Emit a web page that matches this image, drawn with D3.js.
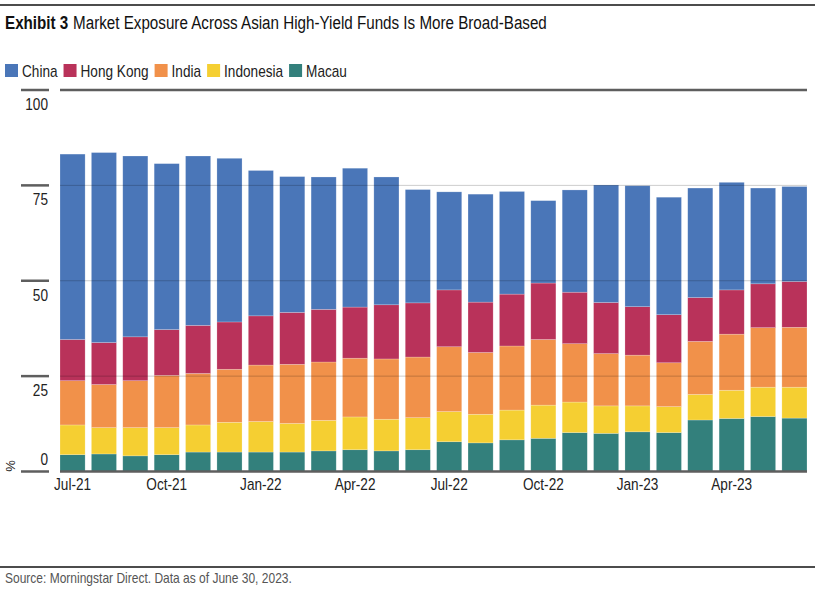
<!DOCTYPE html>
<html>
<head>
<meta charset="utf-8">
<script src="https://cdn.jsdelivr.net/npm/d3@7"></script>
<style>
    body { margin: 0; background: #fff; }
    svg { font-family: "Liberation Sans", Arial, sans-serif; }
</style>
</head>
<body>
<div id="chart"></div>
<script>
const months = ["Jul-21", "Aug-21", "Sep-21", "Oct-21", "Nov-21", "Dec-21",
    "Jan-22", "Feb-22", "Mar-22", "Apr-22", "May-22", "Jun-22",
    "Jul-22", "Aug-22", "Sep-22", "Oct-22", "Nov-22", "Dec-22",
    "Jan-23", "Feb-23", "Mar-23", "Apr-23", "May-23", "Jun-23"];
const macau = [4.4, 4.6, 4.1, 4.4, 5.1, 5.1, 5.1, 5.1, 5.4, 5.7, 5.4, 5.7,
    7.8, 7.5, 8.3, 8.7, 10.2, 10.0, 10.4, 10.2, 13.5, 13.9, 14.4, 14.0];
const indonesia = [7.8, 6.9, 7.4, 7.1, 7.1, 7.8, 8.0, 7.5, 8.0, 8.6, 8.3, 8.4,
    7.9, 7.5, 7.8, 8.7, 8.0, 7.2, 6.8, 6.8, 6.7, 7.4, 7.7, 8.1];
const india = [11.6, 11.3, 12.3, 13.7, 13.5, 13.9, 14.8, 15.5, 15.3, 15.4, 15.8, 15.9,
    17.0, 16.2, 16.8, 17.2, 15.3, 13.7, 13.3, 11.5, 13.9, 14.7, 15.6, 15.7];
const hongKong = [10.8, 11.0, 11.5, 12.0, 12.6, 12.4, 12.9, 13.6, 13.8, 13.4, 14.2, 14.2,
    14.9, 13.2, 13.6, 14.8, 13.5, 13.4, 12.7, 12.6, 11.5, 11.6, 11.5, 12.0];
const china = [48.6, 49.8, 47.4, 43.5, 44.4, 42.9, 38.1, 35.6, 34.7, 36.4, 33.5, 29.7,
    25.7, 28.3, 26.9, 21.6, 26.8, 30.8, 31.7, 30.8, 28.7, 28.2, 25.1, 24.9];
const xTicks = ["Jul-21", "Oct-21", "Jan-22", "Apr-22", "Jul-22", "Oct-22", "Jan-23", "Apr-23"];
const yTicks = [0, 25, 50, 75, 100];

// stacking order bottom -> top
const seriesNames = ["Macau", "Indonesia", "India", "Hong Kong", "China"];
const seriesValues = [macau, indonesia, india, hongKong, china];
const legendNames = ["China", "Hong Kong", "India", "Indonesia", "Macau"];
const colors = {
    "China": "#4a76b8",
    "Hong Kong": "#b9325a",
    "India": "#f1914a",
    "Indonesia": "#f5cf32",
    "Macau": "#33807c"
};

const width = 827, height = 599;
const margin = { top: 90, right: 20, bottom: 128, left: 60 };
const squeeze = 0.8; // no condensed font installed, so squeeze glyphs horizontally

function narrow(sel) {
    sel.each(function () {
        const w = this.getComputedTextLength();
        d3.select(this).attr("textLength", w * squeeze).attr("lengthAdjust", "spacingAndGlyphs")
            .attr("data-w", w * squeeze);
    });
    return sel;
}

const table = months.map((m, i) => {
    const row = { month: m };
    seriesNames.forEach((s, j) => row[s] = seriesValues[j][i]);
    return row;
});

const svg = d3.select("#chart")
    .append("svg")
    .attr("width", width)
    .attr("height", height);

// frame lines and title
svg.append("line").attr("x1", 0).attr("x2", 815).attr("y1", 5).attr("y2", 5)
    .attr("stroke", "#111").attr("stroke-width", 1.5);

const titleG = svg.append("g").attr("transform", `translate(5,29) scale(${squeeze},1)`);
const tBold = titleG.append("text").attr("x", 0).attr("y", 0)
    .attr("font-size", 19).attr("font-weight", "bold").attr("fill", "#111")
    .text("Exhibit 3");
titleG.append("text").attr("x", tBold.node().getComputedTextLength() + 6).attr("y", 0)
    .attr("font-size", 19).attr("fill", "#111")
    .text("Market Exposure Across Asian High-Yield Funds Is More Broad-Based");

// legend
let lx = 5;
legendNames.forEach(name => {
    svg.append("rect").attr("x", lx).attr("y", 64).attr("width", 13).attr("height", 13)
        .attr("fill", colors[name]);
    const t = narrow(svg.append("text").attr("x", lx + 17).attr("y", 77)
        .attr("font-size", 17).attr("fill", "#222").text(name));
    lx += 17 + (+t.attr("data-w")) + 6;
});

// scales
const x = d3.scaleBand()
    .domain(months)
    .range([margin.left, 807])
    .paddingInner(0.2)
    .paddingOuter(0);

const y = d3.scaleLinear()
    .domain([0, 100])
    .range([471.5, 90]);

const stack = d3.stack().keys(seriesNames);
const stacked = stack(table);

// bars
svg.append("g")
    .selectAll("g")
    .data(stacked)
    .join("g")
    .attr("fill", d => colors[d.key])
    .selectAll("rect")
    .data(d => d)
    .join("rect")
    .attr("x", d => x(d.data.month))
    .attr("width", x.bandwidth())
    .attr("y", d => y(d[1]))
    .attr("height", d => y(d[0]) - y(d[1]))
    .attr("stroke", "#fff")
    .attr("stroke-opacity", 0.35)
    .attr("stroke-width", 0.6);

// gridlines over bars
svg.append("g")
    .selectAll("line")
    .data(yTicks.filter(v => v > 0 && v < 100))
    .join("line")
    .attr("x1", margin.left).attr("x2", 807)
    .attr("y1", d => y(d)).attr("y2", d => y(d))
    .attr("stroke", "#000").attr("stroke-opacity", 0.2).attr("stroke-width", 1);

// top and base lines
[0, 100].forEach(v => {
    svg.append("line").attr("x1", margin.left).attr("x2", 807)
        .attr("y1", y(v)).attr("y2", y(v))
        .attr("stroke", "#5e5e5e").attr("stroke-width", 2.5);
});

// y axis: tick stubs + labels
const yAxis = svg.append("g");
yAxis.selectAll("line")
    .data(yTicks)
    .join("line")
    .attr("x1", 21).attr("x2", 49)
    .attr("y1", d => y(d)).attr("y2", d => y(d))
    .attr("stroke", "#5e5e5e").attr("stroke-width", 2.5);
narrow(yAxis.selectAll("text")
    .data(yTicks)
    .join("text")
    .attr("x", 48)
    .attr("y", d => d === 0 ? y(d) - 7 : y(d) + 20)
    .attr("text-anchor", "end")
    .attr("font-size", 17)
    .attr("fill", "#222")
    .text(d => d));

svg.append("text")
    .attr("transform", "translate(15,466) rotate(-90)")
    .attr("text-anchor", "middle")
    .attr("font-size", 13)
    .attr("fill", "#222")
    .text("%");

// x axis
const xAxis = svg.append("g")
    .attr("transform", "translate(0,475)")
    .call(d3.axisBottom(x).tickValues(xTicks).tickSize(0).tickPadding(3));
xAxis.select(".domain").remove();
narrow(xAxis.selectAll("text")
    .attr("font-size", 17)
    .attr("font-family", "Liberation Sans, Arial, sans-serif")
    .attr("fill", "#222"));

// source
svg.append("line").attr("x1", 0).attr("x2", 815).attr("y1", 567).attr("y2", 567)
    .attr("stroke", "#111").attr("stroke-width", 1.5);
narrow(svg.append("text").attr("x", 5).attr("y", 583)
    .attr("font-size", 15).attr("fill", "#555")
    .text("Source: Morningstar Direct. Data as of June 30, 2023."));
</script>
</body>
</html>
